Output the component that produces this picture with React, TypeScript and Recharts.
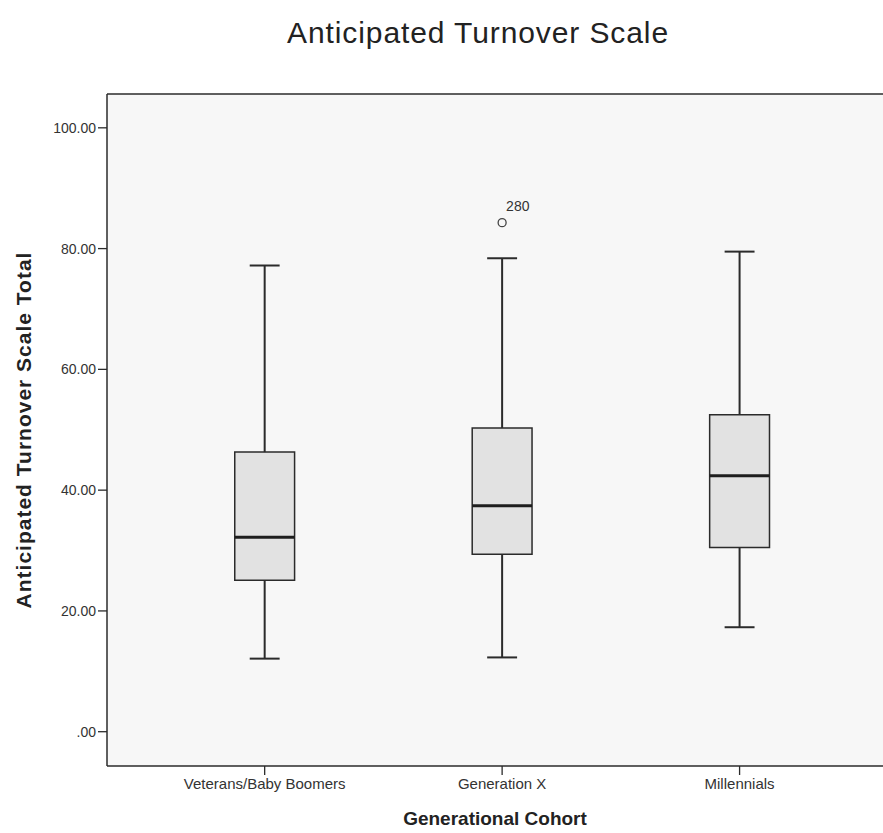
import React from "react";
import {
  ComposedChart,
  XAxis,
  YAxis,
  ReferenceArea,
  ReferenceLine,
  Scatter,
} from "recharts";

const categories = ["Veterans/Baby Boomers", "Generation X", "Millennials"];
const whiskerLow = [12.1, 12.3, 17.3];
const q1 = [25.1, 29.4, 30.5];
const median = [32.2, 37.4, 42.4];
const q3 = [46.3, 50.3, 52.5];
const whiskerHigh = [77.2, 78.4, 79.5];
const outliers = [{ x: 1, y: 84.3, label: "280" }];
const yTicks = [0, 20, 40, 60, 80, 100];

const X_DOMAIN: [number, number] = [-0.664, 2.604];
const Y_DOMAIN: [number, number] = [-5.68, 105.6];
const BOX_HALF = 0.126;
const CAP_HALF = 0.063;
const INK = "#2b2b2b";
const FONT = "Arial, 'Liberation Sans', sans-serif";

function OutlierShape(props: any) {
  const { cx, cy, payload } = props;
  return (
    <g>
      <circle cx={cx} cy={cy} r={4} fill="none" stroke="#444" strokeWidth={1.3} />
      <text x={cx + 4} y={cy - 12} fontSize={14} fill="#333" fontFamily={FONT}>
        {payload.label}
      </text>
    </g>
  );
}

export default function App() {
  return (
    <div
      style={{
        position: "absolute",
        left: 0,
        top: 0,
        width: 883,
        height: 833,
        overflow: "hidden",
        background: "#fff",
        fontFamily: FONT,
      }}
    >
      <div
        style={{
          position: "absolute",
          left: 228,
          width: 500,
          top: 16,
          textAlign: "center",
          fontSize: 30,
          letterSpacing: 0.9,
          color: "#222",
        }}
      >
        Anticipated Turnover Scale
      </div>
      <ComposedChart
        width={883}
        height={833}
        margin={{ top: 94, right: 0, bottom: 0, left: 0 }}
        style={{ fontFamily: FONT }}
      >
        <XAxis
          type="number"
          dataKey="x"
          domain={X_DOMAIN}
          allowDataOverflow
          ticks={[0, 1, 2]}
          tickFormatter={(i: number) => categories[i] ?? ""}
          height={67}
          tickSize={9}
          tickMargin={3}
          axisLine={{ stroke: INK, strokeWidth: 1.5 }}
          tickLine={{ stroke: INK, strokeWidth: 1.3 }}
          tick={{ fontSize: 15, fill: "#333" }}
          label={{
            value: "Generational Cohort",
            position: "insideBottom",
            offset: 8,
            style: { fontSize: 19, fontWeight: "bold", fill: "#222" },
          }}
        />
        <YAxis
          type="number"
          dataKey="y"
          domain={Y_DOMAIN}
          allowDataOverflow
          ticks={yTicks}
          tickFormatter={(v: number) => (v === 0 ? ".00" : v.toFixed(2))}
          width={107}
          tickSize={9}
          tickMargin={2}
          axisLine={{ stroke: INK, strokeWidth: 1.5 }}
          tickLine={{ stroke: INK, strokeWidth: 1.3 }}
          tick={{ fontSize: 14, fill: "#333" }}
          label={{
            value: "Anticipated Turnover Scale Total",
            angle: -90,
            position: "insideLeft",
            offset: 24,
            style: {
              textAnchor: "middle",
              fontSize: 21,
              fontWeight: "bold",
              letterSpacing: 1,
              fill: "#222",
            },
          }}
        />
        <ReferenceArea
          x1={X_DOMAIN[0]}
          x2={X_DOMAIN[1]}
          y1={Y_DOMAIN[0]}
          y2={Y_DOMAIN[1]}
          fill="#f7f7f7"
          fillOpacity={1}
          stroke="none"
        />
        <ReferenceLine y={Y_DOMAIN[1]} stroke={INK} strokeWidth={1.5} />
        {categories.map((c, i) => (
          <ReferenceLine
            key={`wh-${c}`}
            segment={[
              { x: i, y: q3[i] },
              { x: i, y: whiskerHigh[i] },
            ]}
            stroke={INK}
            strokeWidth={2}
          />
        ))}
        {categories.map((c, i) => (
          <ReferenceLine
            key={`wl-${c}`}
            segment={[
              { x: i, y: whiskerLow[i] },
              { x: i, y: q1[i] },
            ]}
            stroke={INK}
            strokeWidth={2}
          />
        ))}
        {categories.map((c, i) => (
          <ReferenceLine
            key={`ch-${c}`}
            segment={[
              { x: i - CAP_HALF, y: whiskerHigh[i] },
              { x: i + CAP_HALF, y: whiskerHigh[i] },
            ]}
            stroke={INK}
            strokeWidth={2}
          />
        ))}
        {categories.map((c, i) => (
          <ReferenceLine
            key={`cl-${c}`}
            segment={[
              { x: i - CAP_HALF, y: whiskerLow[i] },
              { x: i + CAP_HALF, y: whiskerLow[i] },
            ]}
            stroke={INK}
            strokeWidth={2}
          />
        ))}
        {categories.map((c, i) => (
          <ReferenceArea
            key={`box-${c}`}
            x1={i - BOX_HALF}
            x2={i + BOX_HALF}
            y1={q1[i]}
            y2={q3[i]}
            fill="#e2e2e2"
            fillOpacity={1}
            stroke={INK}
            strokeWidth={1.5}
          />
        ))}
        {categories.map((c, i) => (
          <ReferenceLine
            key={`md-${c}`}
            segment={[
              { x: i - BOX_HALF, y: median[i] },
              { x: i + BOX_HALF, y: median[i] },
            ]}
            stroke="#1e1e1e"
            strokeWidth={3}
          />
        ))}
        <Scatter
          data={outliers}
          dataKey="y"
          shape={OutlierShape}
          isAnimationActive={false}
        />
      </ComposedChart>
    </div>
  );
}
